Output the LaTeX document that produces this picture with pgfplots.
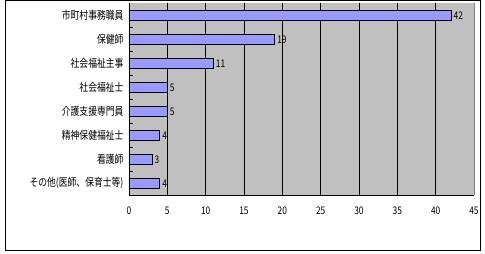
\documentclass[border=0pt]{standalone}
\usepackage{pgfplots}
\pgfplotsset{compat=1.18}
\usepackage{fontspec}
\setmainfont{Noto Sans CJK JP}[FakeStretch=0.8]
\definecolor{barc}{HTML}{9999FF}
\definecolor{bgc}{HTML}{C0C0C0}
\begin{document}
\begin{tikzpicture}
\begin{axis}[
  scale only axis, width=345pt, height=192pt,
  xbar, bar width=10pt,
  xmin=0, xmax=45, ymin=-0.5, ymax=7.5, y dir=reverse,
  xtick={0,5,...,45}, ytick={0,...,7},
  yticklabels={市町村事務職員,保健師,社会福祉主事,社会福祉士,介護支援専門員,精神保健福祉士,看護師,その他(医師、保育士等)},
  minor ytick={0.5,1.5,...,6.5},
  minor tick length=4pt, major tick length=0pt,
  ytick style={black, line width=0.6pt},
  xmajorgrids, major x grid style={black, line width=0.6pt},
  axis background/.style={fill=bgc},
  axis x line*=bottom, axis y line*=left,
  axis line style={black, line width=0.6pt},
  x axis line style={-}, y axis line style={-},
  tick align=inside,
  xticklabel style={font=\fontsize{10.5}{12}\selectfont, yshift=-8pt},
  yticklabel style={font=\fontsize{11}{12}\selectfont, xshift=-2pt},
  /pgf/number format/assume math mode=true,
  nodes near coords,
  every node near coord/.append style={font=\fontsize{10.5}{12}\selectfont, black, anchor=west, xshift=-1pt},
  clip=false,
]
\addplot[fill=barc, draw=black, line width=0.6pt] coordinates {(42,0) (19,1) (11,2) (5,3) (5,4) (4,5) (3,6) (4,7)};
\draw[gray, line width=0.6pt] (axis description cs:1,0) -- (axis description cs:1,1);
\draw[black, line width=0.8pt] ([shift={(-124pt,-55pt)}]axis description cs:0,0) rectangle ([shift={(6pt,3pt)}]axis description cs:1,1);
\path ([shift={(-129pt,-58pt)}]axis description cs:0,0) rectangle ([shift={(11pt,3pt)}]axis description cs:1,1);
\end{axis}
\end{tikzpicture}
\end{document}
